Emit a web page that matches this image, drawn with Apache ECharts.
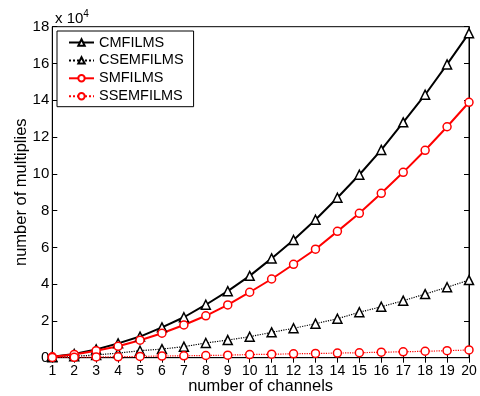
<!DOCTYPE html>
<html><head><meta charset="utf-8">
<script src="https://cdn.jsdelivr.net/npm/echarts@6/dist/echarts.min.js"></script>
<style>html,body{margin:0;padding:0;background:#fff}#c{width:480px;height:396px}</style>
</head><body><div id="c"></div>
<script>
const channels = [1,2,3,4,5,6,7,8,9,10,11,12,13,14,15,16,17,18,19,20];
const cmfilms   = [0.05,0.2,0.45,0.78,1.15,1.65,2.2,2.88,3.62,4.45,5.4,6.4,7.5,8.7,9.95,11.3,12.8,14.3,15.95,17.65];
const csemfilms = [0.02,0.08,0.15,0.25,0.38,0.47,0.6,0.8,0.96,1.14,1.38,1.6,1.85,2.12,2.47,2.77,3.1,3.46,3.83,4.22];
const smfilms   = [0.05,0.18,0.38,0.62,0.95,1.33,1.78,2.28,2.87,3.56,4.28,5.08,5.9,6.87,7.85,8.94,10.08,11.28,12.56,13.89];
const ssemfilms = [0.01,0.02,0.04,0.05,0.07,0.09,0.1,0.12,0.14,0.17,0.19,0.21,0.23,0.25,0.27,0.3,0.32,0.35,0.38,0.42];
const yTicks = [0,2,4,6,8,10,12,14,16,18];
const seriesNames = ['CMFILMS','CSEMFILMS','SMFILMS','SSEMFILMS'];

const font = 'Liberation Sans, Arial, Helvetica, sans-serif';
const pair = arr => channels.map((c,i)=>[c,arr[i]]);
function mk(name, data, color, type, symbol, size, lw){
  return {name, type:'line', data:pair(data), symbol, symbolSize:size,
    lineStyle:{color, width:lw, type}, itemStyle:{color:'#fff', borderColor:color, borderWidth:1.5},
    emphasis:{disabled:true}, animation:false, z: 3};
}
const chart = echarts.init(document.getElementById('c'), null, {renderer:'canvas'});
chart.setOption({
  animation:false,
  title:{text:'x 10{s|4}', left:50, top:4, textStyle:{fontFamily:font, fontSize:15, fontWeight:'normal', color:'#000',
    rich:{s:{fontSize:10, verticalAlign:'top', padding:[0,0,9,0], fontFamily:font}}}},
  grid:{left:52.3, right:11, top:26.7, bottom:38.3, show:true, borderColor:'#000', borderWidth:1,
    containLabel:false, outerBoundsMode:'none'},
  legend:{orient:'vertical', left:57, top:31, itemWidth:25, itemHeight:8, itemGap:2.9,
    padding:[4,10,3,11], borderColor:'#000', borderWidth:1, backgroundColor:'#fff',
    textStyle:{fontFamily:font, fontSize:14.5, color:'#000', lineHeight:13.8}, data:seriesNames},
  xAxis:[{type:'value', min:1, max:20, interval:1,
    name:'number of channels', nameLocation:'middle', nameGap:20, nameMoveOverlap:false,
    nameTextStyle:{fontFamily:font, fontSize:16.5, color:'#000'},
    axisLine:{lineStyle:{color:'#000', width:1}}, axisTick:{inside:true, length:5, lineStyle:{color:'#000'}},
    axisLabel:{fontFamily:font, fontSize:14, color:'#000', margin:6}, splitLine:{show:false}},
   {type:'value', min:1, max:20, interval:1, position:'top',
    axisLine:{lineStyle:{color:'#000'}}, axisTick:{inside:true, length:5, lineStyle:{color:'#000'}},
    axisLabel:{show:false}, splitLine:{show:false}}],
  yAxis:[{type:'value', min:0, max:18, interval:2,
    name:'number of multiplies', nameLocation:'middle', nameGap:22, nameMoveOverlap:false,
    nameTextStyle:{fontFamily:font, fontSize:16.5, color:'#000'},
    axisLine:{show:true, lineStyle:{color:'#000'}}, axisTick:{show:true, inside:true, length:5, lineStyle:{color:'#000'}},
    axisLabel:{fontFamily:font, fontSize:15, color:'#000', margin:3, formatter:v=>yTicks.includes(v)?String(v):''},
    splitLine:{show:false}},
   {type:'value', min:0, max:18, interval:2, position:'right',
    axisLine:{show:true, lineStyle:{color:'#000'}}, axisTick:{show:true, inside:true, length:5, lineStyle:{color:'#000'}},
    axisLabel:{show:false}, splitLine:{show:false}}],
  series:[
    mk(seriesNames[0], cmfilms, '#000', 'solid', 'triangle', 9, 2),
    mk(seriesNames[1], csemfilms, '#000', 'dotted', 'triangle', 9, 1.2),
    mk(seriesNames[2], smfilms, '#f00', 'solid', 'circle', 8, 2),
    mk(seriesNames[3], ssemfilms, '#f00', 'dotted', 'circle', 8, 1.2)
  ]
});
</script></body></html>
